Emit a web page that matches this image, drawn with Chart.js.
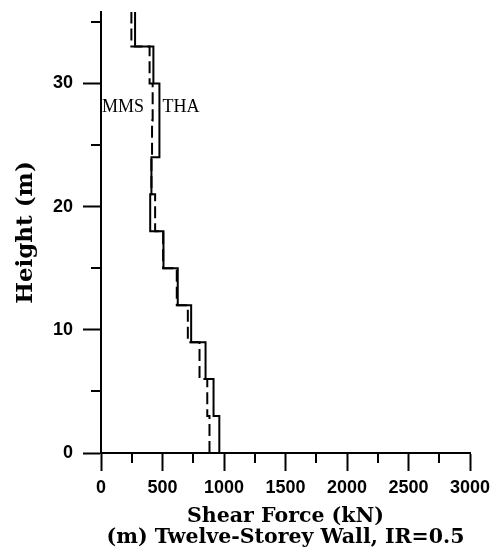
<!DOCTYPE html>
<html>
<head>
<meta charset="utf-8">
<script src="https://cdn.jsdelivr.net/npm/chart.js@4/dist/chart.umd.min.js"></script>
<style>
  body { margin: 0; background: #fff; }
  #wrap { width: 491px; height: 557px; }
</style>
</head>
<body>
<div id="wrap"><canvas id="wallChart"></canvas></div>
<script>
// floor levels of the twelve-storey wall (m), bottom to top
const levels = [0, 3, 6, 9, 12, 15, 18, 21, 24, 27, 30, 33, 36];
// storey shear (kN), storey 1 .. storey 12
const thaShear = [962, 915, 850, 733, 624, 508, 400, 410, 475, 475, 426, 277];
const mmsShear = [882, 864, 801, 706, 616, 505, 440, 410, 415, 420, 395, 247];
const xMajorTicks = [0, 500, 1000, 1500, 2000, 2500, 3000];
const yMajorTicks = [0, 10, 20, 30];
const xMinorTicks = [250, 750, 1250, 1750, 2250, 2750];
const yMinorTicks = [5, 15, 25, 35];
const seriesLabels = [
  { text: 'MMS', x: 8, y: 28.1 },
  { text: 'THA', x: 500, y: 28.1 }
];

// turn storey values into a vertical step profile
function stepProfile(values) {
  const pts = [];
  for (let i = 0; i < values.length; i++) {
    pts.push({ x: values[i], y: levels[i] });
    pts.push({ x: values[i], y: levels[i + 1] });
  }
  return pts;
}

const extras = {
  id: 'extras',
  afterDraw(chart) {
    const ctx = chart.ctx;
    const xs = chart.scales.x, ys = chart.scales.y;
    const area = chart.chartArea;
    ctx.save();
    ctx.strokeStyle = '#000';
    ctx.lineWidth = 2;
    ctx.beginPath();
    for (const v of xMinorTicks) {
      const px = Math.round(xs.getPixelForValue(v));
      ctx.moveTo(px, area.bottom);
      ctx.lineTo(px, area.bottom + 10);
    }
    for (const v of yMinorTicks) {
      const py = Math.round(ys.getPixelForValue(v));
      ctx.moveTo(area.left, py);
      ctx.lineTo(area.left - 10, py);
    }
    ctx.stroke();
    ctx.fillStyle = '#000';
    ctx.font = '18px "Liberation Serif"';
    ctx.textBaseline = 'middle';
    ctx.textAlign = 'left';
    for (const l of seriesLabels) {
      ctx.fillText(l.text, xs.getPixelForValue(l.x), ys.getPixelForValue(l.y));
    }
    ctx.restore();
  }
};

const tickFont = { family: '"Liberation Sans", Arial, sans-serif', size: 18, weight: 'bold' };

new Chart(document.getElementById('wallChart'), {
  type: 'scatter',
  data: {
    datasets: [
      {
        label: 'THA',
        data: stepProfile(thaShear),
        showLine: true,
        borderColor: '#000',
        borderWidth: 2,
        pointRadius: 0
      },
      {
        label: 'MMS',
        data: stepProfile(mmsShear),
        showLine: true,
        borderColor: '#000',
        borderWidth: 2,
        borderDash: [12, 5],
        pointRadius: 0
      }
    ]
  },
  options: {
    responsive: true,
    maintainAspectRatio: false,
    animation: false,
    layout: { padding: { left: 0, right: 21, top: 12, bottom: 0 } },
    plugins: {
      legend: { display: false },
      tooltip: { enabled: false }
    },
    scales: {
      x: {
        type: 'linear',
        min: 0,
        max: 3000,
        afterBuildTicks: s => { s.ticks = xMajorTicks.map(v => ({ value: v })); },
        afterFit: s => { s.height = 104; s.paddingLeft = 0; s.paddingRight = 0; },
        border: { display: true, color: '#000', width: 2 },
        grid: { drawOnChartArea: false, drawTicks: true, tickLength: 18, tickWidth: 2, tickColor: '#000' },
        ticks: {
          color: '#000',
          padding: 6,
          maxRotation: 0,
          callback: v => String(v),
          font: tickFont
        },
        title: {
          display: true,
          text: ['Shear Force (kN)', '(m) Twelve-Storey Wall, IR=0.5'],
          color: '#000',
          padding: { top: 0, bottom: 8.5 },
          font: { family: '"DejaVu Serif", serif', size: 20.5, weight: 'bold', lineHeight: 1.03 }
        }
      },
      y: {
        type: 'linear',
        min: 0,
        max: 35.8,
        afterBuildTicks: s => { s.ticks = yMajorTicks.map(v => ({ value: v })); },
        afterFit: s => { s.width = 101; s.paddingTop = 0; s.paddingBottom = 0; },
        border: { display: true, color: '#000', width: 2 },
        grid: { drawOnChartArea: false, drawTicks: true, tickLength: 18, tickWidth: 2, tickColor: '#000' },
        ticks: {
          color: '#000',
          padding: 10,
          callback: v => String(v),
          font: tickFont
        },
        title: {
          display: true,
          text: 'Height (m)',
          color: '#000',
          padding: { top: 12, bottom: 0 },
          font: { family: '"DejaVu Serif", serif', size: 23, weight: 'bold', lineHeight: 1.2 }
        }
      }
    }
  },
  plugins: [extras]
});
</script>
</body>
</html>
